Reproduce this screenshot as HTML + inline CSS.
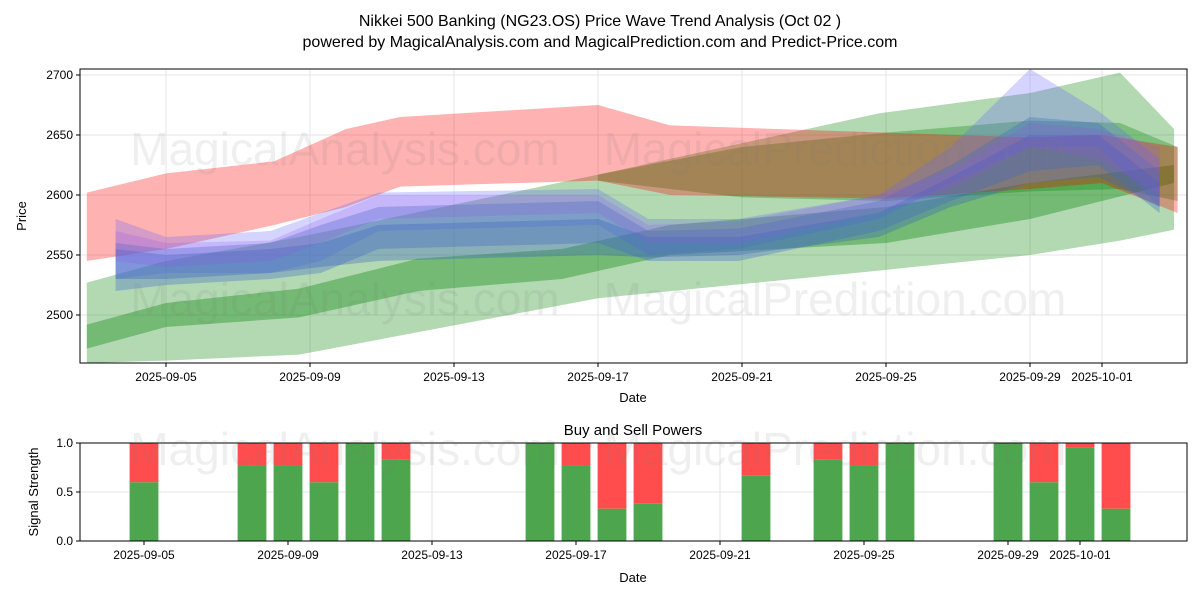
<!DOCTYPE html>
<html><head><meta charset="utf-8"><style>
body{margin:0;background:#fff;}
svg text{font-family:"Liberation Sans","DejaVu Sans",sans-serif;}
</style></head><body>
<svg id="chart" width="1200" height="600" xmlns="http://www.w3.org/2000/svg">
<rect width="1200" height="600" fill="#fff"/>
<text x="600" y="26" text-anchor="middle" font-size="16">Nikkei 500 Banking (NG23.OS) Price Wave Trend Analysis (Oct 02 )</text>
<text x="600" y="47" text-anchor="middle" font-size="16">powered by MagicalAnalysis.com and MagicalPrediction.com and Predict-Price.com</text>
<g id="topg"></g>
<g id="botg"></g>
</svg>
<script>
// ---- data (days relative to 2025-09-05) ----
const topTicks = ["2025-09-05","2025-09-09","2025-09-13","2025-09-17","2025-09-21","2025-09-25","2025-09-29","2025-10-01"];
const topTickDays = [0,4,8,12,16,20,24,26];
const priceTicks = [2500,2550,2600,2650,2700];
const redDays = [-2.2,0,3,5,6.5,12,14,20,24,26,28.1];
const redUpper = [2602,2618,2628,2655,2665,2675,2658,2652,2648,2650,2640];
const redLower = [2545,2555,2575,2590,2607,2612,2600,2597,2605,2610,2585];
const g1Days = [-2.2,0,3.7,12,19.8,24,26.5,28];
const g1Upper = [2527,2545,2565,2617,2668,2685,2702,2655];
const g1Lower = [2460,2462,2467,2514,2537,2550,2562,2571];
const g2Days = [-2.2,0,3.7,7,11,14,20,24,28];
const g2Upper = [2492,2510,2522,2547,2555,2575,2590,2610,2625];
const g2Lower = [2472,2490,2498,2520,2530,2550,2560,2580,2610];
const g3Days = [12,16,20,24,26.5,28.1];
const g3Upper = [2617,2640,2652,2662,2660,2640];
const g3Lower = [2612,2598,2595,2603,2605,2595];
const bDays = [-1.4,0,2.9,4.3,5.9,12,13.4,15.9,19.8,21.8,24,25.9,27.6];
const b1U=[2580,2565,2570,2585,2602,2605,2580,2580,2600,2640,2705,2670,2630];
const b1L=[2530,2535,2535,2545,2570,2575,2550,2555,2580,2610,2640,2640,2590];
const b2U=[2560,2555,2560,2575,2590,2595,2570,2572,2595,2625,2665,2660,2620];
const b2L=[2520,2525,2530,2535,2555,2560,2545,2545,2570,2595,2620,2625,2585];
const b3U=[2555,2550,2555,2560,2575,2580,2565,2565,2585,2615,2650,2650,2610];
const b3L=[2530,2530,2535,2540,2545,2550,2548,2550,2565,2590,2610,2615,2590];
const b4U=[2570,2560,2562,2580,2600,2600,2575,2578,2600,2620,2660,2655,2640];
const b4L=[2545,2540,2545,2560,2580,2585,2560,2560,2585,2605,2640,2630,2600];
const barDays = [0,3,4,5,6,7,11,12,13,14,17,19,20,21,24,25,26,27];
const buyVals = [0.6,0.77,0.77,0.6,1.0,0.83,1.0,0.77,0.33,0.38,0.67,0.83,0.77,1.0,1.0,0.6,0.95,0.33];
const sigTicks = [0,0.5,1.0];

const NS="http://www.w3.org/2000/svg";
function mk(parent,tag,attrs){const e=document.createElementNS(NS,tag);for(const k in attrs)e.setAttribute(k,attrs[k]);parent.appendChild(e);return e;}
const topG=document.getElementById('topg'), botG=document.getElementById('botg');
const L=80,R=1187,T1=69,B1=363,T2=443,B2=541;
const xT=d=>166+d*36, yT=v=>75+(2700-v)*1.2;
const xB=d=>144+d*36, yB=v=>B2-v*98;

priceTicks.forEach(v=>{const g=mk(topG,'line',{x1:L,x2:R,y1:yT(v),y2:yT(v),stroke:'#e6e6e6'});
});
topTickDays.forEach(d=>{const g=mk(topG,'line',{x1:xT(d),x2:xT(d),y1:T1,y2:B1,stroke:'#e6e6e6'});
});
const clip=mk(topG,'clipPath',{id:'c1'});mk(clip,'rect',{x:L,y:T1,width:R-L,height:B1-T1});
const bands=mk(topG,'g',{'clip-path':'url(#c1)'});
function band(days,u,l,fill,name){
 let p=days.map((d,i)=>xT(d)+','+yT(u[i]));
 for(let i=days.length-1;i>=0;i--)p.push(xT(days[i])+','+yT(l[i]));
 const e=mk(bands,'polygon',{points:p.join(' '),fill:fill});
 }
band(g1Days,g1Upper,g1Lower,'rgba(0,128,0,0.3)','green-band-wide');
band(g2Days,g2Upper,g2Lower,'rgba(0,128,0,0.35)','green-band-low');
band(g3Days,g3Upper,g3Lower,'rgba(0,128,0,0.3)','green-band-upper');
band(redDays,redUpper,redLower,'rgba(255,0,0,0.3)','red-band');
band(bDays,b1U,b1L,'rgba(100,100,255,0.28)','blue-band-1');
band(bDays,b2U,b2L,'rgba(70,110,200,0.35)','blue-band-2');
band(bDays,b3U,b3L,'rgba(60,100,190,0.35)','blue-band-3');
band(bDays,b4U,b4L,'rgba(150,80,230,0.22)','purple-band');
[[345,150],[835,150],[345,300],[835,300],[345,450],[835,450]].forEach((p,i)=>{
 const t=mk(document.getElementById('chart'),'text',{x:p[0],y:p[1]+15,'text-anchor':'middle','font-size':46,fill:'rgba(120,120,120,0.12)'});
 t.textContent=i%2?'MagicalPrediction.com':'MagicalAnalysis.com';
 });
mk(topG,'rect',{x:L,y:T1,width:R-L,height:B1-T1,fill:'none',stroke:'#000'});
priceTicks.forEach(v=>{mk(topG,'line',{x1:L-4,x2:L,y1:yT(v),y2:yT(v),stroke:'#000'});
 const t=mk(topG,'text',{x:L-7,y:yT(v)+4,'text-anchor':'end','font-size':12});t.textContent=v;
 });
topTickDays.forEach((d,i)=>{mk(topG,'line',{x1:xT(d),x2:xT(d),y1:B1,y2:B1+4,stroke:'#000'});
 const t=mk(topG,'text',{x:xT(d),y:B1+18,'text-anchor':'middle','font-size':12});t.textContent=topTicks[i];
 });
let tx=mk(topG,'text',{x:633,y:402,'text-anchor':'middle','font-size':13});tx.textContent='Date';

tx=mk(topG,'text',{x:26,y:216,'text-anchor':'middle','font-size':13,transform:'rotate(-90 26 216)'});tx.textContent='Price';


sigTicks.forEach(v=>{const g=mk(botG,'line',{x1:L,x2:R,y1:yB(v),y2:yB(v),stroke:'#e6e6e6'});
});
topTickDays.forEach(d=>{const g=mk(botG,'line',{x1:xB(d),x2:xB(d),y1:T2,y2:B2,stroke:'#e6e6e6'});
});
barDays.forEach((d,i)=>{const b=buyVals[i];
 const g=mk(botG,'rect',{x:xB(d)-14.4,y:yB(b),width:28.8,height:yB(0)-yB(b),fill:'rgb(77,166,77)'});
 
 const r=mk(botG,'rect',{x:xB(d)-14.4,y:yB(1),width:28.8,height:yB(b)-yB(1),fill:'rgb(255,77,77)'});
 });
mk(botG,'rect',{x:L,y:T2,width:R-L,height:B2-T2,fill:'none',stroke:'#000'});
sigTicks.forEach(v=>{mk(botG,'line',{x1:L-4,x2:L,y1:yB(v),y2:yB(v),stroke:'#000'});
 const t=mk(botG,'text',{x:L-7,y:yB(v)+4,'text-anchor':'end','font-size':12});t.textContent=v.toFixed(1);
 });
topTickDays.forEach((d,i)=>{mk(botG,'line',{x1:xB(d),x2:xB(d),y1:B2,y2:B2+4,stroke:'#000'});
 const t=mk(botG,'text',{x:xB(d),y:B2+18,'text-anchor':'middle','font-size':12});t.textContent=topTicks[i];
 });
tx=mk(botG,'text',{x:633,y:435,'text-anchor':'middle','font-size':15});tx.textContent='Buy and Sell Powers';

tx=mk(botG,'text',{x:633,y:582,'text-anchor':'middle','font-size':13});tx.textContent='Date';

tx=mk(botG,'text',{x:38,y:492,'text-anchor':'middle','font-size':13,transform:'rotate(-90 38 492)'});tx.textContent='Signal Strength';

</script>
</body></html>
